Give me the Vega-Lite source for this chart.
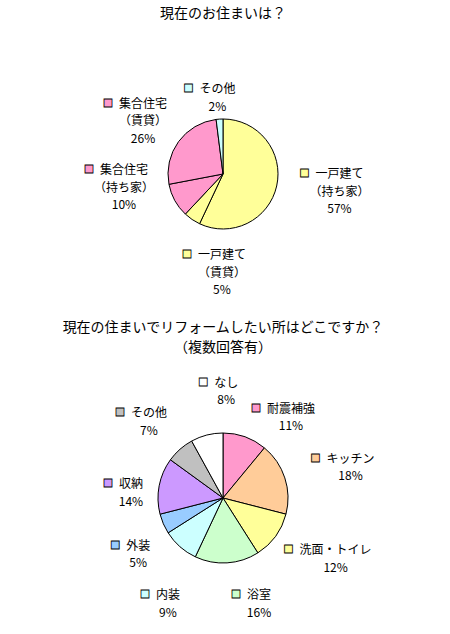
{
 "$schema": "https://vega.github.io/schema/vega-lite/v6.json",
 "background": "#ffffff",
 "padding": {"left": 0, "right": 4, "top": 7, "bottom": 0},
 "spacing": 0,
 "config": {"view": {"stroke": null}, "font": "Noto Sans CJK JP", "title": {"fontSize": 14, "fontWeight": "normal", "color": "#000000", "lineHeight": 20, "offset": 6}, "text": {"fontSize": 12, "lineBreak": "\n", "lineHeight": 17.5}},
 "resolve": {"scale": {"color": "independent", "theta": "independent"}},
 "vconcat": [
  {
   "width": 446, "height": 294,
   "title": {"text": "現在のお住まいは？"},
   "data": {"values": [
    {"i": 1, "category": "一戸建て（持ち家）", "value": 57, "label": "一戸建て\n（持ち家）\n57%"},
    {"i": 2, "category": "一戸建て（賃貸）", "value": 5, "label": "一戸建て\n（賃貸）\n5%"},
    {"i": 3, "category": "集合住宅（持ち家）", "value": 10, "label": "集合住宅\n（持ち家）\n10%"},
    {"i": 4, "category": "集合住宅（賃貸）", "value": 26, "label": "集合住宅\n（賃貸）\n26%"},
    {"i": 5, "category": "その他", "value": 2, "label": "その他\n2%"}
   ]},
   "encoding": {
    "theta": {"field": "value", "type": "quantitative", "stack": true},
    "order": {"field": "i", "type": "quantitative"},
    "detail": {"field": "category", "type": "nominal"}
   },
   "layer": [
    {"mark": {"type": "arc", "outerRadius": 55, "stroke": "#000000", "strokeWidth": 1},
     "encoding": {"color": {"field": "category", "type": "nominal", "legend": null,
       "scale": {"domain": ["一戸建て（持ち家）", "一戸建て（賃貸）", "集合住宅（持ち家）", "集合住宅（賃貸）", "その他"], "range": ["#FFFF99", "#FFFF99", "#FF99CC", "#FF99CC", "#CCFFFF"]}}}},
    {"mark": {"type": "text", "text": "■", "fontSize": 10, "stroke": "#000000", "strokeWidth": 0.8, "radius": 105, "dx": -21, "dy": -22.5, "clip": true},
     "encoding": {"color": {"field": "category", "type": "nominal", "legend": null}, "opacity": {"condition": {"test": {"field": "category", "equal": "一戸建て（持ち家）"}, "value": 1}, "value": 0}}},
    {"mark": {"type": "text", "color": "#000000", "radius": 105, "dx": 14, "dy": -22.5, "clip": true},
     "encoding": {"text": {"field": "label"}, "opacity": {"condition": {"test": {"field": "category", "equal": "一戸建て（持ち家）"}, "value": 1}, "value": 0}}},
    {"mark": {"type": "text", "text": "■", "fontSize": 10, "stroke": "#000000", "strokeWidth": 0.8, "radius": 105, "dx": 23, "dy": -5.5, "clip": true},
     "encoding": {"color": {"field": "category", "type": "nominal", "legend": null}, "opacity": {"condition": {"test": {"field": "category", "equal": "一戸建て（賃貸）"}, "value": 1}, "value": 0}}},
    {"mark": {"type": "text", "color": "#000000", "radius": 105, "dx": 58, "dy": -5.5, "clip": true},
     "encoding": {"text": {"field": "label"}, "opacity": {"condition": {"test": {"field": "category", "equal": "一戸建て（賃貸）"}, "value": 1}, "value": 0}}},
    {"mark": {"type": "text", "text": "■", "fontSize": 10, "stroke": "#000000", "strokeWidth": 0.8, "radius": 105, "dx": -42, "dy": -54.5, "clip": true},
     "encoding": {"color": {"field": "category", "type": "nominal", "legend": null}, "opacity": {"condition": {"test": {"field": "category", "equal": "集合住宅（持ち家）"}, "value": 1}, "value": 0}}},
    {"mark": {"type": "text", "color": "#000000", "radius": 105, "dx": -7, "dy": -54.5, "clip": true},
     "encoding": {"text": {"field": "label"}, "opacity": {"condition": {"test": {"field": "category", "equal": "集合住宅（持ち家）"}, "value": 1}, "value": 0}}},
    {"mark": {"type": "text", "text": "■", "fontSize": 10, "stroke": "#000000", "strokeWidth": 0.8, "radius": 105, "dx": -30, "dy": -8.5, "clip": true},
     "encoding": {"color": {"field": "category", "type": "nominal", "legend": null}, "opacity": {"condition": {"test": {"field": "category", "equal": "集合住宅（賃貸）"}, "value": 1}, "value": 0}}},
    {"mark": {"type": "text", "color": "#000000", "radius": 105, "dx": 5, "dy": -8.5, "clip": true},
     "encoding": {"text": {"field": "label"}, "opacity": {"condition": {"test": {"field": "category", "equal": "集合住宅（賃貸）"}, "value": 1}, "value": 0}}},
    {"mark": {"type": "text", "text": "■", "fontSize": 10, "stroke": "#000000", "strokeWidth": 0.8, "radius": 105, "dx": -28, "dy": 20.25, "clip": true},
     "encoding": {"color": {"field": "category", "type": "nominal", "legend": null}, "opacity": {"condition": {"test": {"field": "category", "equal": "その他"}, "value": 1}, "value": 0}}},
    {"mark": {"type": "text", "color": "#000000", "radius": 105, "dx": 1, "dy": 20.25, "clip": true},
     "encoding": {"text": {"field": "label"}, "opacity": {"condition": {"test": {"field": "category", "equal": "その他"}, "value": 1}, "value": 0}}}
   ]
  },
  {
   "width": 446, "height": 274,
   "title": {"text": ["現在の住まいでリフォームしたい所はどこですか？", "（複数回答有）"]},
   "data": {"values": [
    {"i": 1, "category": "耐震補強", "value": 11, "label": "耐震補強\n11%"},
    {"i": 2, "category": "キッチン", "value": 18, "label": "キッチン\n18%"},
    {"i": 3, "category": "洗面・トイレ", "value": 12, "label": "洗面・トイレ\n12%"},
    {"i": 4, "category": "浴室", "value": 16, "label": "浴室\n16%"},
    {"i": 5, "category": "内装", "value": 9, "label": "内装\n9%"},
    {"i": 6, "category": "外装", "value": 5, "label": "外装\n5%"},
    {"i": 7, "category": "収納", "value": 14, "label": "収納\n14%"},
    {"i": 8, "category": "その他", "value": 7, "label": "その他\n7%"},
    {"i": 9, "category": "なし", "value": 8, "label": "なし\n8%"}
   ]},
   "encoding": {
    "theta": {"field": "value", "type": "quantitative", "stack": true},
    "order": {"field": "i", "type": "quantitative"},
    "detail": {"field": "category", "type": "nominal"}
   },
   "layer": [
    {"mark": {"type": "arc", "outerRadius": 65, "stroke": "#000000", "strokeWidth": 1},
     "encoding": {"color": {"field": "category", "type": "nominal", "legend": null,
       "scale": {"domain": ["耐震補強", "キッチン", "洗面・トイレ", "浴室", "内装", "外装", "収納", "その他", "なし"], "range": ["#FF99CC", "#FFCC99", "#FFFF99", "#CCFFCC", "#CCFFFF", "#99CCFF", "#CC99FF", "#C0C0C0", "#FFFFFF"]}}}},
    {"mark": {"type": "text", "text": "■", "fontSize": 10, "stroke": "#000000", "strokeWidth": 0.8, "radius": 112, "dx": -5, "dy": 16.25, "clip": true},
     "encoding": {"color": {"field": "category", "type": "nominal", "legend": null}, "opacity": {"condition": {"test": {"field": "category", "equal": "耐震補強"}, "value": 1}, "value": 0}}},
    {"mark": {"type": "text", "color": "#000000", "radius": 112, "dx": 30, "dy": 16.25, "clip": true},
     "encoding": {"text": {"field": "label"}, "opacity": {"condition": {"test": {"field": "category", "equal": "耐震補強"}, "value": 1}, "value": 0}}},
    {"mark": {"type": "text", "text": "■", "fontSize": 10, "stroke": "#000000", "strokeWidth": 0.8, "radius": 112, "dx": -14, "dy": -4.75, "clip": true},
     "encoding": {"color": {"field": "category", "type": "nominal", "legend": null}, "opacity": {"condition": {"test": {"field": "category", "equal": "キッチン"}, "value": 1}, "value": 0}}},
    {"mark": {"type": "text", "color": "#000000", "radius": 112, "dx": 21, "dy": -4.75, "clip": true},
     "encoding": {"text": {"field": "label"}, "opacity": {"condition": {"test": {"field": "category", "equal": "キッチン"}, "value": 1}, "value": 0}}},
    {"mark": {"type": "text", "text": "■", "fontSize": 10, "stroke": "#000000", "strokeWidth": 0.8, "radius": 112, "dx": -25, "dy": -13.75, "clip": true},
     "encoding": {"color": {"field": "category", "type": "nominal", "legend": null}, "opacity": {"condition": {"test": {"field": "category", "equal": "洗面・トイレ"}, "value": 1}, "value": 0}}},
    {"mark": {"type": "text", "color": "#000000", "radius": 112, "dx": 22, "dy": -13.75, "clip": true},
     "encoding": {"text": {"field": "label"}, "opacity": {"condition": {"test": {"field": "category", "equal": "洗面・トイレ"}, "value": 1}, "value": 0}}},
    {"mark": {"type": "text", "text": "■", "fontSize": 10, "stroke": "#000000", "strokeWidth": 0.8, "radius": 112, "dx": 6, "dy": -14.75, "clip": true},
     "encoding": {"color": {"field": "category", "type": "nominal", "legend": null}, "opacity": {"condition": {"test": {"field": "category", "equal": "浴室"}, "value": 1}, "value": 0}}},
    {"mark": {"type": "text", "color": "#000000", "radius": 112, "dx": 29, "dy": -14.75, "clip": true},
     "encoding": {"text": {"field": "label"}, "opacity": {"condition": {"test": {"field": "category", "equal": "浴室"}, "value": 1}, "value": 0}}},
    {"mark": {"type": "text", "text": "■", "fontSize": 10, "stroke": "#000000", "strokeWidth": 0.8, "radius": 112, "dx": -4, "dy": 13.25, "clip": true},
     "encoding": {"color": {"field": "category", "type": "nominal", "legend": null}, "opacity": {"condition": {"test": {"field": "category", "equal": "内装"}, "value": 1}, "value": 0}}},
    {"mark": {"type": "text", "color": "#000000", "radius": 112, "dx": 19, "dy": 13.25, "clip": true},
     "encoding": {"text": {"field": "label"}, "opacity": {"condition": {"test": {"field": "category", "equal": "内装"}, "value": 1}, "value": 0}}},
    {"mark": {"type": "text", "text": "■", "fontSize": 10, "stroke": "#000000", "strokeWidth": 0.8, "radius": 112, "dx": -5, "dy": 3.25, "clip": true},
     "encoding": {"color": {"field": "category", "type": "nominal", "legend": null}, "opacity": {"condition": {"test": {"field": "category", "equal": "外装"}, "value": 1}, "value": 0}}},
    {"mark": {"type": "text", "color": "#000000", "radius": 112, "dx": 18, "dy": 3.25, "clip": true},
     "encoding": {"text": {"field": "label"}, "opacity": {"condition": {"test": {"field": "category", "equal": "外装"}, "value": 1}, "value": 0}}},
    {"mark": {"type": "text", "text": "■", "fontSize": 10, "stroke": "#000000", "strokeWidth": 0.8, "radius": 112, "dx": -5, "dy": 7.25, "clip": true},
     "encoding": {"color": {"field": "category", "type": "nominal", "legend": null}, "opacity": {"condition": {"test": {"field": "category", "equal": "収納"}, "value": 1}, "value": 0}}},
    {"mark": {"type": "text", "color": "#000000", "radius": 112, "dx": 18, "dy": 7.25, "clip": true},
     "encoding": {"text": {"field": "label"}, "opacity": {"condition": {"test": {"field": "category", "equal": "収納"}, "value": 1}, "value": 0}}},
    {"mark": {"type": "text", "text": "■", "fontSize": 10, "stroke": "#000000", "strokeWidth": 0.8, "radius": 112, "dx": -29, "dy": -0.75, "clip": true},
     "encoding": {"color": {"field": "category", "type": "nominal", "legend": null}, "opacity": {"condition": {"test": {"field": "category", "equal": "その他"}, "value": 1}, "value": 0}}},
    {"mark": {"type": "text", "color": "#000000", "radius": 112, "dx": 0, "dy": -0.75, "clip": true},
     "encoding": {"text": {"field": "label"}, "opacity": {"condition": {"test": {"field": "category", "equal": "その他"}, "value": 1}, "value": 0}}},
    {"mark": {"type": "text", "text": "■", "fontSize": 10, "stroke": "#000000", "strokeWidth": 0.8, "radius": 112, "dx": 8, "dy": -6.75, "clip": true},
     "encoding": {"color": {"field": "category", "type": "nominal", "legend": null}, "opacity": {"condition": {"test": {"field": "category", "equal": "なし"}, "value": 1}, "value": 0}}},
    {"mark": {"type": "text", "color": "#000000", "radius": 112, "dx": 31, "dy": -6.75, "clip": true},
     "encoding": {"text": {"field": "label"}, "opacity": {"condition": {"test": {"field": "category", "equal": "なし"}, "value": 1}, "value": 0}}}
   ]
  }
 ]
}
